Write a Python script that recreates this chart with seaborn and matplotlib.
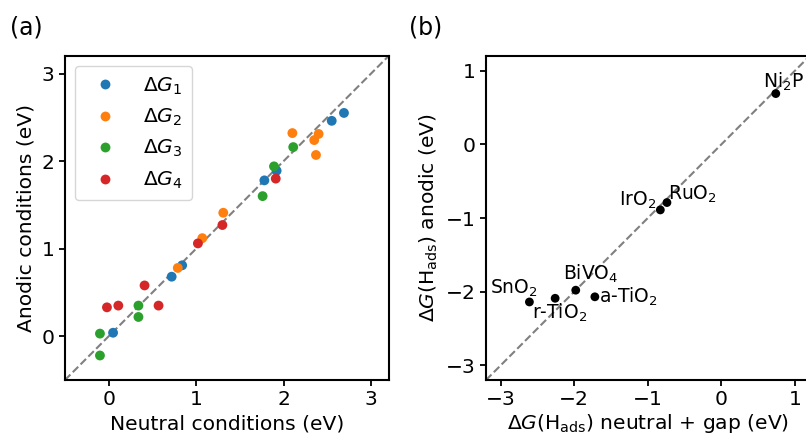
import matplotlib
matplotlib.use("Agg")
import matplotlib.pyplot as plt
import numpy as np
import pandas as pd
import seaborn as sns

sns.set_style("ticks")
plt.rcParams["font.family"] = ["DejaVu Sans"]
plt.rcParams["mathtext.fontset"] = "dejavusans"
plt.rcParams["text.color"] = "black"
plt.rcParams["axes.labelcolor"] = "black"
plt.rcParams["xtick.color"] = "black"
plt.rcParams["ytick.color"] = "black"

# Panel (a): neutral vs anodic free energies per step
g1_neutral = [0.05, 0.72, 0.84, 1.78, 1.92, 2.55, 2.69]
g1_anodic = [0.04, 0.68, 0.81, 1.78, 1.89, 2.46, 2.55]
g2_neutral = [0.79, 1.07, 1.31, 2.10, 2.35, 2.40, 2.37]
g2_anodic = [0.78, 1.12, 1.41, 2.32, 2.24, 2.31, 2.07]
g3_neutral = [-0.10, -0.10, 0.34, 0.34, 1.76, 1.89, 2.11]
g3_anodic = [0.03, -0.22, 0.35, 0.22, 1.60, 1.94, 2.16]
g4_neutral = [-0.02, 0.11, 0.41, 0.57, 1.02, 1.30, 1.91]
g4_anodic = [0.33, 0.35, 0.58, 0.35, 1.06, 1.27, 1.80]
step_labels = [r"$\Delta G_1$", r"$\Delta G_2$", r"$\Delta G_3$", r"$\Delta G_4$"]

# Panel (b): H adsorption energies
materials = [r"SnO$_2$", r"r-TiO$_2$", r"BiVO$_4$", r"a-TiO$_2$",
             r"IrO$_2$", r"RuO$_2$", r"Ni$_2$P"]
h_neutral_gap = [-2.61, -2.26, -1.98, -1.72, -0.83, -0.74, 0.74]
h_anodic = [-2.14, -2.09, -1.98, -2.07, -0.89, -0.79, 0.69]
# label offsets in points (dx, dy)
label_offsets = [(-11.5, 9.5), (3.5, -10.5), (10.5, 11.5), (24.5, 0),
                 (-16, 6.7), (18.7, 6), (5.3, 8.4)]

df_a = pd.DataFrame({
    "neutral": g1_neutral + g2_neutral + g3_neutral + g4_neutral,
    "anodic": g1_anodic + g2_anodic + g3_anodic + g4_anodic,
    "step": [step_labels[0]] * len(g1_neutral) + [step_labels[1]] * len(g2_neutral)
    + [step_labels[2]] * len(g3_neutral) + [step_labels[3]] * len(g4_neutral),
})
df_b = pd.DataFrame({"x": h_neutral_gap, "y": h_anodic, "name": materials})

fs = 14.6
fig = plt.figure(figsize=(8.06, 4.36), dpi=100)
ax1 = fig.add_axes([0.0806, 0.1284, 0.4015, 0.7431])
ax2 = fig.add_axes([0.603, 0.1284, 0.4015, 0.7431])

# (a)
lim_a = (-0.5, 3.2)
ax1.plot(lim_a, lim_a, ls="--", color="gray", lw=1.5, zorder=1)
sns.scatterplot(data=df_a, x="neutral", y="anodic", hue="step", palette="tab10",
                s=50, edgecolor="none", linewidth=0, ax=ax1, zorder=3)
ax1.set_xlim(lim_a)
ax1.set_ylim(lim_a)
ax1.set_xticks([0, 1, 2, 3])
ax1.set_yticks([0, 1, 2, 3])
ax1.set_xlabel("Neutral conditions (eV)", fontsize=fs)
ax1.set_ylabel("Anodic conditions (eV)", fontsize=fs)
ax1.legend(loc="upper left", fontsize=fs, handletextpad=0.9, borderpad=0.45)

# (b)
lim_b = (-3.2, 1.2)
ax2.plot(lim_b, lim_b, ls="--", color="gray", lw=1.5, zorder=1)
sns.scatterplot(data=df_b, x="x", y="y", color="black", s=40,
                edgecolor="none", linewidth=0, ax=ax2, zorder=3)
for (xv, yv, name), off in zip(zip(h_neutral_gap, h_anodic, materials), label_offsets):
    ax2.annotate(name, (xv, yv), xytext=off, textcoords="offset points",
                 ha="center", va="center", fontsize=13.5)
ax2.set_xlim(lim_b)
ax2.set_ylim(lim_b)
ax2.set_xticks([-3, -2, -1, 0, 1])
ax2.set_yticks([-3, -2, -1, 0, 1])
ax2.set_xlabel(r"$\Delta G(\mathrm{H_{ads}})$ neutral + gap (eV)", fontsize=fs, labelpad=1.5)
ax2.set_ylabel(r"$\Delta G(\mathrm{H_{ads}})$ anodic (eV)", fontsize=fs)

for ax in (ax1, ax2):
    ax.tick_params(labelsize=fs, width=1.3, length=4, color="black")
    for sp in ax.spines.values():
        sp.set_linewidth(1.5)
        sp.set_color("black")

fig.text(0.012, 0.965, "(a)", fontsize=17, va="top", ha="left")
fig.text(0.508, 0.965, "(b)", fontsize=17, va="top", ha="left")

fig.savefig("out.png", dpi=100)
